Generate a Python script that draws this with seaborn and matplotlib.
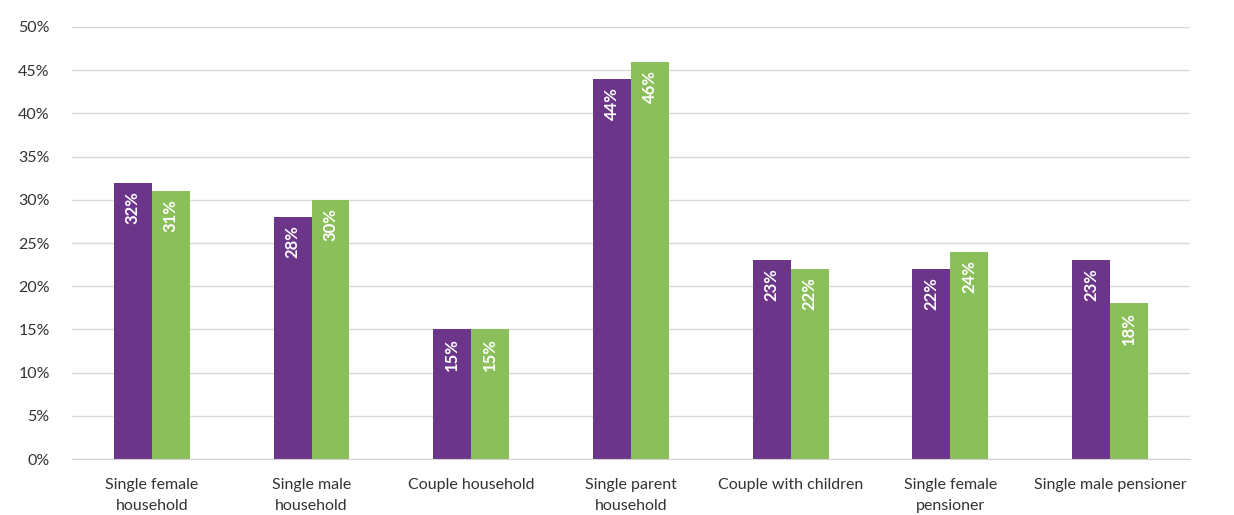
import matplotlib
matplotlib.use("Agg")
import matplotlib.pyplot as plt
import seaborn as sns
import pandas as pd
from matplotlib.ticker import FuncFormatter

categories = ["Single female\nhousehold", "Single male\nhousehold", "Couple household",
              "Single parent\nhousehold", "Couple with children", "Single female\npensioner",
              "Single male pensioner"]
series_names = ["Group 1", "Group 2"]
values_1 = [32, 28, 15, 44, 23, 22, 23]
values_2 = [31, 30, 15, 46, 22, 24, 18]

df = pd.DataFrame({
    "category": categories * 2,
    "series": [series_names[0]] * len(categories) + [series_names[1]] * len(categories),
    "value": values_1 + values_2,
})

sns.set_style("white")
plt.rcParams["font.family"] = ["Lato", "DejaVu Sans"]

fig = plt.figure(figsize=(12.34, 5.15), dpi=100)
ax = fig.add_axes([0.0583, 0.1087, 0.9060, 0.8389])

sns.barplot(data=df, x="category", y="value", hue="series", order=categories,
            palette=["#6B3589", "#8BBF5A"], width=0.475, saturation=1,
            linewidth=0, legend=False, ax=ax)

for p in ax.patches:
    h = p.get_height()
    if h <= 0:
        continue
    ax.annotate(f"{h:.0f}%", (p.get_x() + p.get_width() / 2, h),
                xytext=(0, -6), textcoords="offset points",
                rotation=90, ha="center", va="top", color="white",
                fontsize=12, fontweight="bold")

ax.set_ylim(0, 50)
ax.set_xlim(-0.5, len(categories) - 0.5)
ax.set_yticks(range(0, 51, 5))
ax.yaxis.set_major_formatter(FuncFormatter(lambda v, _: f"{v:.0f}%"))
ax.grid(axis="y", color="#D9D9D9", linewidth=1)
ax.set_axisbelow(True)
for s in ["top", "right", "left"]:
    ax.spines[s].set_visible(False)
ax.spines["bottom"].set_color("#D0D0D0")
ax.tick_params(axis="both", length=0, labelsize=11.5, colors="#333333")
ax.tick_params(axis="x", pad=14)
ax.tick_params(axis="y", pad=16)
for lbl in ax.get_xticklabels():
    lbl.set_linespacing(1.55)
ax.set_xlabel("")
ax.set_ylabel("")

fig.savefig("out.png", dpi=100)
